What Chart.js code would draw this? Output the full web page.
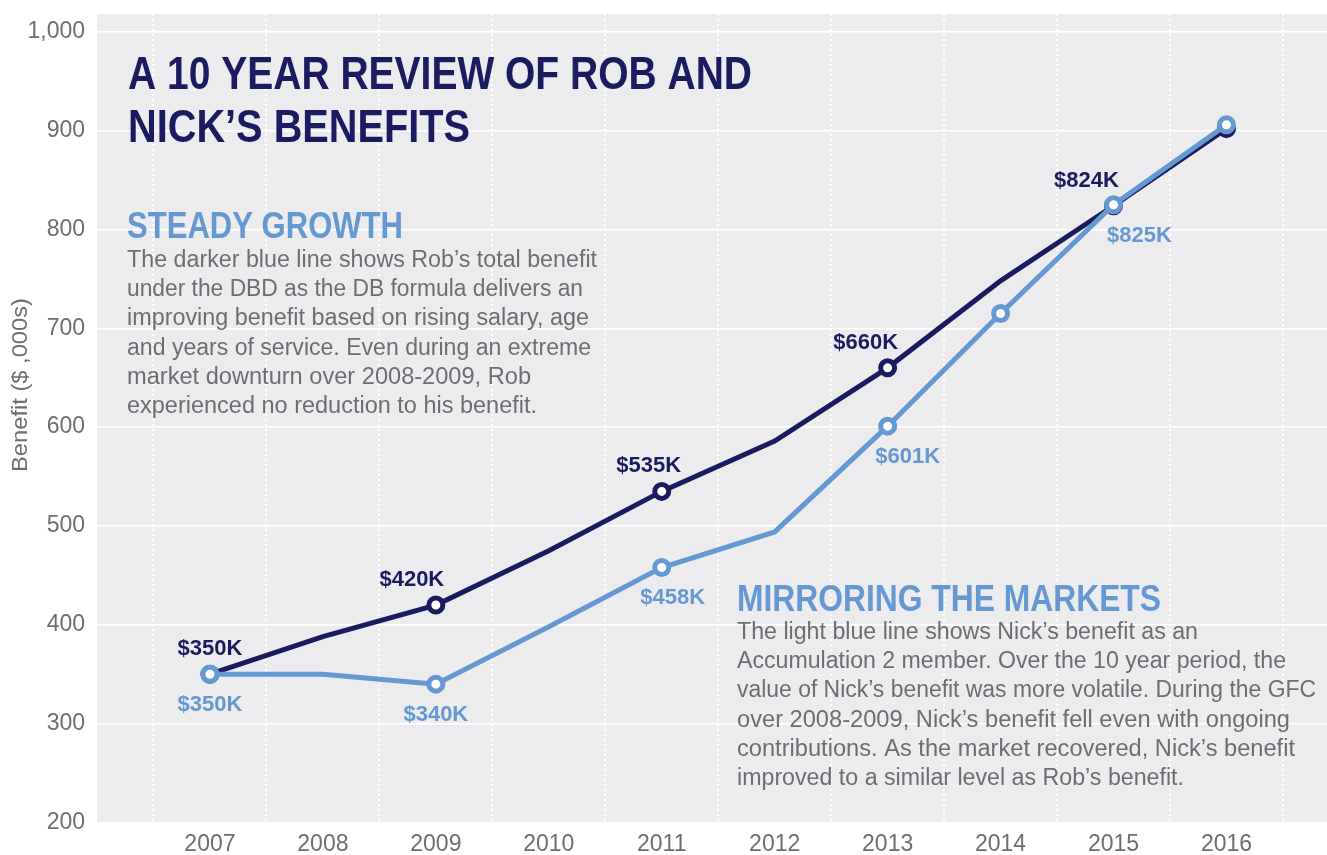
<!DOCTYPE html>
<html>
<head>
<meta charset="utf-8">
<script src="https://cdn.jsdelivr.net/npm/chart.js@4"></script>
<style>
  html, body { margin: 0; padding: 0; background: #ffffff; }
  #wrap { width: 1327px; height: 855px; position: relative; }
</style>
</head>
<body>
<div id="wrap"><canvas id="benefitChart" width="1327" height="855"></canvas></div>
<script>
// data ($ ,000s)
const years = [2007, 2008, 2009, 2010, 2011, 2012, 2013, 2014, 2015, 2016];
const robBenefit = [350, 388, 420, 475, 535, 586, 660, 748, 824, 902];
const nickBenefit = [350, 350, 340, 398, 458, 494, 601, 715, 825, 906];
const labelledYears = [2007, 2009, 2011, 2013, 2015];
const robMarkerYears = [2007, 2009, 2011, 2013, 2015, 2016];
const nickMarkerYears = [2007, 2009, 2011, 2013, 2014, 2015, 2016];
const yTicks = [200, 300, 400, 500, 600, 700, 800, 900, 1000];

const titleLines = ["A 10 YEAR REVIEW OF ROB AND", "NICK\u2019S BENEFITS"];
const robHeading = "STEADY GROWTH";
const robText = [
    "The darker blue line shows Rob\u2019s total benefit",
    "under the DBD as the DB formula delivers an",
    "improving benefit based on rising salary, age",
    "and years of service. Even during an extreme",
    "market downturn over 2008-2009, Rob",
    "experienced no reduction to his benefit."
];
const nickHeading = "MIRRORING THE MARKETS";
const nickText = [
    "The light blue line shows Nick\u2019s benefit as an",
    "Accumulation 2 member. Over the 10 year period, the",
    "value of Nick\u2019s benefit was more volatile. During the GFC",
    "over 2008-2009, Nick\u2019s benefit fell even with ongoing",
    "contributions. As the market recovered, Nick\u2019s benefit",
    "improved to a similar level as Rob\u2019s benefit."
];
const yAxisTitle = "Benefit ($ ,000s)";

const NAVY = "#1b1c5f";
const LIGHT = "#6698d2";
const GREY = "#6d6e71";
const FONT = "'Liberation Sans', Arial, sans-serif";

// draw text squeezed/stretched to a given width
function drawFit(ctx, text, x, y, w) {
    const m = ctx.measureText(text).width;
    ctx.save();
    ctx.translate(x, y);
    ctx.scale(w / m, 1);
    ctx.fillText(text, 0, 0);
    ctx.restore();
}

const backgroundPlugin = {
    id: 'plotBackground',
    beforeDraw(chart) {
        const { ctx, chartArea } = chart;
        ctx.save();
        ctx.fillStyle = "#ececef";
        ctx.fillRect(chartArea.left, chartArea.top, chartArea.right - chartArea.left, chartArea.bottom - chartArea.top);
        ctx.restore();
    }
};

const textPlugin = {
    id: 'annotations',
    beforeDatasetsDraw(chart) {
        const ctx = chart.ctx;
        ctx.save();
        ctx.textAlign = "left";
        ctx.textBaseline = "alphabetic";

        ctx.fillStyle = NAVY;
        ctx.font = "bold 47px " + FONT;
        drawFit(ctx, titleLines[0], 128, 89, 624);
        drawFit(ctx, titleLines[1], 128, 142, 342);

        ctx.fillStyle = LIGHT;
        ctx.font = "bold 36px " + FONT;
        drawFit(ctx, robHeading, 127, 238, 276);
        drawFit(ctx, nickHeading, 737, 611, 424);

        ctx.fillStyle = GREY;
        ctx.font = "23px " + FONT;
        const robWidths = [470, 456, 462, 464, 404, 410];
        robText.forEach((line, i) => drawFit(ctx, line, 127, 266.7 + i * 29.3, robWidths[i]));
        const nickWidths = [461, 549, 579, 553, 558, 447];
        nickText.forEach((line, i) => drawFit(ctx, line, 737, 639 + i * 29.2, nickWidths[i]));

        // y axis title
        ctx.save();
        ctx.translate(21, 385);
        ctx.rotate(-Math.PI / 2);
        ctx.textAlign = "center";
        ctx.textBaseline = "middle";
        ctx.font = "22px " + FONT;
        const m = ctx.measureText(yAxisTitle).width;
        ctx.scale(174 / m, 1);
        ctx.fillText(yAxisTitle, 0, 0);
        ctx.restore();

        ctx.restore();
    },
    afterDatasetsDraw(chart) {
        const ctx = chart.ctx;
        const nickMeta = chart.getDatasetMeta(0);
        const robMeta = chart.getDatasetMeta(1);
        const robShift = [0, -24, -13, -22, -27];
        const nickShift = [0, 0, 11, 20, 26];
        ctx.save();
        ctx.font = "bold 22px " + FONT;
        ctx.textAlign = "center";
        ctx.textBaseline = "alphabetic";
        labelledYears.forEach((yr, k) => {
            const i = years.indexOf(yr);
            const rp = robMeta.data[i];
            const np = nickMeta.data[i];
            ctx.fillStyle = NAVY;
            ctx.fillText("$" + robBenefit[i] + "K", rp.x + robShift[k], rp.y - 19);
            ctx.fillStyle = LIGHT;
            ctx.fillText("$" + nickBenefit[i] + "K", np.x + nickShift[k], np.y + 37);
        });
        ctx.restore();
    }
};

const ctx = document.getElementById('benefitChart').getContext('2d');
new Chart(ctx, {
    type: 'line',
    data: {
        datasets: [{
            label: "Nick",
            data: years.map((y, i) => ({ x: y, y: nickBenefit[i] })),
            borderColor: LIGHT,
            borderWidth: 5,
            pointRadius: years.map(y => nickMarkerYears.includes(y) ? 7 : 0),
            pointBorderWidth: 5,
            pointBackgroundColor: "#ffffff",
            pointBorderColor: LIGHT,
            tension: 0
        }, {
            label: "Rob",
            data: years.map((y, i) => ({ x: y, y: robBenefit[i] })),
            borderColor: NAVY,
            borderWidth: 5,
            pointRadius: years.map(y => robMarkerYears.includes(y) ? 7 : 0),
            pointBorderWidth: 5,
            pointBackgroundColor: "#ffffff",
            pointBorderColor: NAVY,
            tension: 0
        }]
    },
    options: {
        responsive: false,
        animation: false,
        devicePixelRatio: 1,
        layout: { autoPadding: false, padding: { top: 14, right: 0, left: 0, bottom: 0 } },
        plugins: {
            legend: { display: false },
            tooltip: { enabled: false }
        },
        scales: {
            x: {
                type: 'linear',
                min: 2006,
                max: 2016.89,
                afterFit(scale) {
                    scale.height = 32.5;
                    scale.paddingLeft = 0;
                    scale.paddingRight = 0;
                },
                afterBuildTicks(scale) {
                    scale.ticks = [2006].concat(years).map(v => ({ value: v }));
                },
                ticks: {
                    stepSize: 1,
                    padding: 8,
                    color: GREY,
                    font: { family: FONT, size: 23 },
                    callback: v => (v < years[0] ? '' : String(v))
                },
                grid: {
                    offset: true,
                    color: "#ffffff",
                    lineWidth: 2,
                    drawTicks: false
                },
                border: { display: false, dash: [2, 3] }
            },
            y: {
                min: 200,
                max: 1018,
                afterFit(scale) {
                    scale.width = 97;
                    scale.paddingTop = 0;
                    scale.paddingBottom = 0;
                },
                afterBuildTicks(scale) {
                    scale.ticks = yTicks.map(v => ({ value: v }));
                },
                ticks: {
                    padding: 12,
                    color: GREY,
                    font: { family: FONT, size: 23 }
                },
                grid: {
                    color: "#ffffff",
                    lineWidth: 1.5,
                    drawTicks: false
                },
                border: { display: false }
            }
        }
    },
    plugins: [backgroundPlugin, textPlugin]
});
</script>
</body>
</html>
